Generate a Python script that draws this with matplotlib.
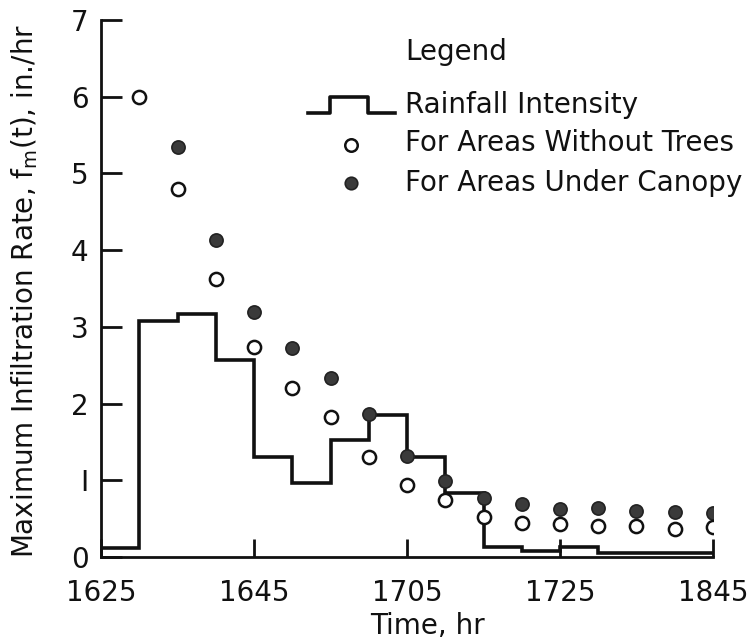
import matplotlib.pyplot as plt
from matplotlib.lines import Line2D

# time axis runs in 5-minute steps; 1725 -> 1845 is squeezed into the last four
step_edges = list(range(0, 17))
rainfall = [0.12, 3.07, 3.17, 2.57, 1.31, 0.96, 1.53, 1.85, 1.31, 0.83,
            0.13, 0.08, 0.13, 0.05, 0.05, 0.05]

obs_times = list(range(1, 17))
no_trees = [6.0, 4.80, 3.62, 2.74, 2.20, 1.83, 1.30, 0.94, 0.74, 0.52,
            0.45, 0.43, 0.40, 0.40, 0.36, 0.39]
under_canopy = [None, 5.35, 4.13, 3.19, 2.72, 2.33, 1.86, 1.32, 0.99, 0.77,
                0.69, 0.62, 0.64, 0.60, 0.59, 0.57]

tick_pos = [0, 4, 8, 12, 16]
tick_labels = ['1625', '1645', '1705', '1725', '1845']

plt.rcParams['font.family'] = ['DejaVu Sans']
INK = '#111111'

fig = plt.figure(figsize=(7.54, 6.43), dpi=100)
ax = fig.add_axes([0.134, 0.1337, 0.8116, 0.8353])

# rainfall hyetograph as a step line
ax.stairs(rainfall, step_edges, color=INK, linewidth=2.6, baseline=None)

cx = [t for t, v in zip(obs_times, under_canopy) if v is not None]
cy = [v for v in under_canopy if v is not None]
ax.plot(cx, cy, linestyle='none', marker='o', markersize=9.5,
        markerfacecolor='#3a3a3a', markeredgecolor='#222222', markeredgewidth=1.2,
        zorder=4)
ax.plot(obs_times, no_trees, linestyle='none', marker='o', markersize=9.5,
        markerfacecolor='white', markeredgecolor=INK, markeredgewidth=1.8,
        zorder=5)

ax.set_xlim(0, 16)
ax.set_ylim(0, 7)
ax.set_xticks(tick_pos)
ax.set_xticklabels(tick_labels)
ax.set_yticks(range(0, 8))
ax.set_yticklabels(['0', 'I', '2', '3', '4', '5', '6', '7'])

for s in ['top', 'right']:
    ax.spines[s].set_visible(False)
for s in ['left', 'bottom']:
    ax.spines[s].set_linewidth(2.0)
    ax.spines[s].set_color(INK)

ax.tick_params(axis='y', direction='in', length=15, width=2.0, pad=9,
               labelsize=20, colors=INK)
ax.tick_params(axis='x', direction='in', length=13, width=2.0, pad=16,
               labelsize=20, colors=INK)

ax.set_xlabel('Time, hr', fontsize=20, color=INK)
ax.xaxis.label.set_va('center')
ax.xaxis.set_label_coords(0.534, -0.128)
ax.set_ylabel(r'Maximum Infiltration Rate, $\mathregular{f_m(t)}$, in./hr',
              fontsize=20, color=INK)
ax.yaxis.label.set_va('center')
ax.yaxis.set_label_coords(-0.125, 0.495)

# hand-placed legend block
tx = 0.497
ax.text(tx, 0.940, 'Legend', transform=ax.transAxes, fontsize=20,
        va='center', ha='left', color=INK)
ax.add_line(Line2D([0.338, 0.374, 0.374, 0.437, 0.437, 0.480],
                   [0.827, 0.827, 0.857, 0.857, 0.827, 0.827],
                   transform=ax.transAxes, color=INK, linewidth=2.6,
                   clip_on=False))
ax.text(tx, 0.841, 'Rainfall Intensity', transform=ax.transAxes, fontsize=20,
        va='center', ha='left', color=INK)
ax.plot([0.408], [0.768], transform=ax.transAxes, marker='o', markersize=9,
        markerfacecolor='white', markeredgecolor=INK, markeredgewidth=1.8,
        clip_on=False)
ax.text(tx, 0.771, 'For Areas Without Trees', transform=ax.transAxes, fontsize=20,
        va='center', ha='left', color=INK)
ax.plot([0.408], [0.697], transform=ax.transAxes, marker='o', markersize=9,
        markerfacecolor='#3a3a3a', markeredgecolor='#222222', markeredgewidth=1.2,
        clip_on=False)
ax.text(tx, 0.697, 'For Areas Under Canopy', transform=ax.transAxes, fontsize=20,
        va='center', ha='left', color=INK)

fig.savefig('out.png', dpi=100, facecolor='white')
